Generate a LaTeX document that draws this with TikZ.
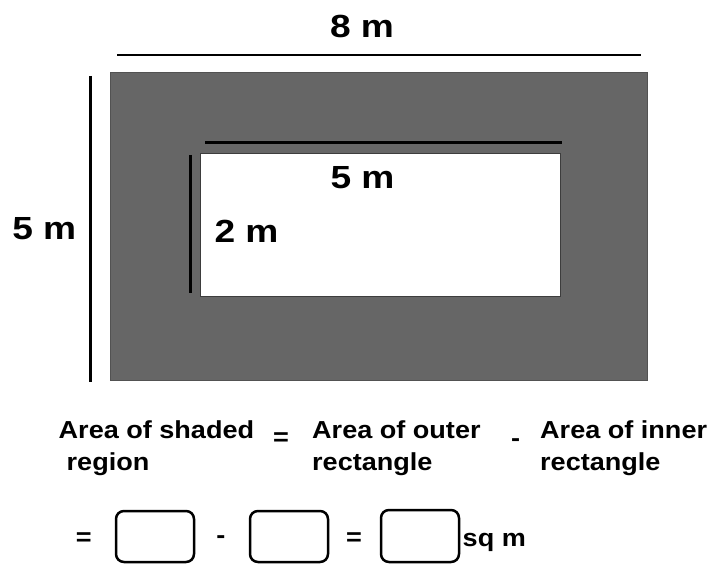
\documentclass[tikz,border=0pt]{standalone}
\usepackage{fontspec}
\usepackage{graphicx}
\setmainfont{Liberation Sans}
\definecolor{shade}{HTML}{666666}
\newcommand{\bigtxt}[1]{\scalebox{1.16}[1]{\fontsize{32}{36}\selectfont\bfseries #1}}
\newcommand{\smtxt}[1]{\scalebox{1.1}[1]{\fontsize{24.6}{30}\selectfont\bfseries #1}}
\begin{document}
\begin{tikzpicture}[x=1pt,y=-1pt,
  big/.style={inner sep=0pt,anchor=base},
  sm/.style={inner sep=0pt,anchor=base west},
  smc/.style={inner sep=0pt,anchor=base},
  ansbox/.style={draw=black,line width=2.5pt,rounded corners=8pt,fill=white},
  dimline/.style={draw=black,line width=2.5pt}]
\useasboundingbox[fill=white] (0,0) rectangle (720,588);
% shaded outer rectangle and white inner rectangle
\draw[fill=shade,draw=shade!80!black,line width=1pt] (110.5,72.5) rectangle (647,380);
\draw[fill=white,draw=shade!60!black,line width=1pt] (200.5,153.5) rectangle (560.5,296.5);
% dimension lines
\coordinate (t1) at (117,55); \coordinate (t2) at (640.5,55);
\coordinate (l1) at (90.5,76); \coordinate (l2) at (90.5,381.5);
\coordinate (it1) at (205,142.7); \coordinate (it2) at (561.5,142.7);
\coordinate (il1) at (190.5,155); \coordinate (il2) at (190.5,292.5);
\draw[dimline,line width=2.6pt] (t1) -- (t2);
\draw[dimline,line width=2.2pt] (l1) -- (l2);
\draw[dimline,line width=3.6pt] (it1) -- (it2);
\draw[dimline,line width=2.6pt] (il1) -- (il2);
% dimension labels
\node[big] (L8) at (362,37.3) {\bigtxt{8 m}};
\node[big] (L5a) at (44.3,240) {\bigtxt{5 m}};
\node[big] (L5b) at (362.5,188.3) {\bigtxt{5 m}};
\node[big] (L2) at (246.5,242) {\bigtxt{2 m}};
% word equation
\node[sm] (w1a) at (58.5,438.3) {\smtxt{Area of shaded}};
\node[sm] (w1b) at (66.5,470.5) {\smtxt{region}};
\node[smc] (eq1) at (281,445.5) {\smtxt{=}};
\node[sm] (w2a) at (312,438.3) {\smtxt{Area of outer}};
\node[sm] (w2b) at (312,470.5) {\smtxt{rectangle}};
\node[smc] (mi1) at (515.5,446.5) {\smtxt{-}};
\node[sm] (w3a) at (540,438.3) {\smtxt{Area of inner}};
\node[sm] (w3b) at (540,470.5) {\smtxt{rectangle}};
% numeric equation
\node[smc] (eq2) at (83.7,545.5) {\smtxt{=}};
\node[ansbox,minimum width=78pt,minimum height=51pt,inner sep=0pt] (b1) at (155,536.5) {};
\node[smc] (mi2) at (221,543.5) {\smtxt{-}};
\node[ansbox,minimum width=78pt,minimum height=51pt,inner sep=0pt] (b2) at (289,536.5) {};
\node[smc] (eq3) at (354,545.5) {\smtxt{=}};
\node[ansbox,minimum width=78pt,minimum height=52pt,inner sep=0pt] (b3) at (420,536) {};
\node[sm] (sqm) at (462.5,546.5) {\smtxt{sq m}};
\end{tikzpicture}
\end{document}
